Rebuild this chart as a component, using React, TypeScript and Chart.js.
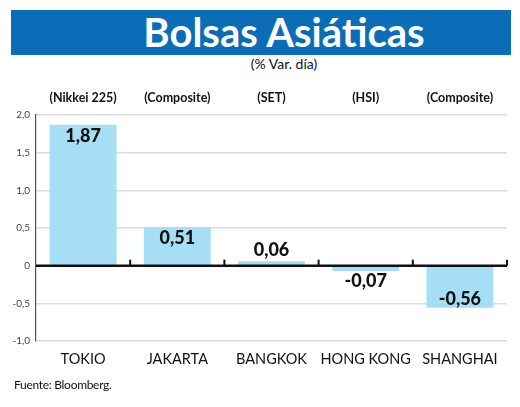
import React, { useEffect, useRef } from "react";
import { Chart, registerables } from "chart.js";

Chart.register(...registerables);

const categories = ["TOKIO", "JAKARTA", "BANGKOK", "HONG KONG", "SHANGHAI"];
const indexNames = ["(Nikkei 225)", "(Composite)", "(SET)", "(HSI)", "(Composite)"];
const values = [1.87, 0.51, 0.06, -0.07, -0.56];
const yTicks = [2.0, 1.5, 1.0, 0.5, 0, -0.5, -1.0];

const fmt = (v: number, d: number) => (v === 0 ? "0" : v.toFixed(d).replace(".", ","));

const zeroLinePlugin = {
  id: "zeroLine",
  afterDatasetsDraw(chart: any) {
    const { ctx, chartArea, scales } = chart;
    const y = scales.y.getPixelForValue(0);
    ctx.save();
    ctx.strokeStyle = "#111";
    ctx.lineWidth = 2.5;
    ctx.beginPath();
    ctx.moveTo(chartArea.left, y);
    ctx.lineTo(chartArea.right, y);
    ctx.stroke();
    const n = categories.length;
    const step = (chartArea.right - chartArea.left) / n;
    ctx.lineWidth = 2;
    for (let i = 1; i <= n; i++) {
      const x = chartArea.left + step * i;
      ctx.beginPath();
      ctx.moveTo(x, y);
      ctx.lineTo(x, y - 6);
      ctx.stroke();
    }
    ctx.restore();
  },
};

const valueLabelPlugin = {
  id: "valueLabels",
  afterDatasetsDraw(chart: any) {
    const { ctx } = chart;
    const meta = chart.getDatasetMeta(0);
    ctx.save();
    ctx.font = "900 18px Lato";
    ctx.fillStyle = "#111";
    ctx.textAlign = "center";
    ctx.textBaseline = "middle";
    meta.data.forEach((bar: any, i: number) => {
      const v = values[i];
      const h = Math.abs(bar.base - bar.y);
      let y;
      if (v >= 0) {
        y = h > 26 ? bar.y + 11 : bar.y - 11;
      } else {
        y = h > 26 ? bar.y - 9 : bar.y + 10;
      }
      ctx.fillText(fmt(v, 2), bar.x, y);
    });
    ctx.restore();
  },
};

export default function App() {
  const ref = useRef<HTMLCanvasElement>(null);
  useEffect(() => {
    if (!ref.current) return;
    const chart = new Chart(ref.current, {
      type: "bar",
      data: {
        labels: categories,
        datasets: [
          {
            data: values,
            backgroundColor: "#a6dff5",
            borderWidth: 0,
            categoryPercentage: 1,
            barPercentage: 0.71,
          },
        ],
      },
      options: {
        animation: false,
        responsive: false,
        maintainAspectRatio: false,
        layout: { padding: { left: 0, right: 13, top: 0, bottom: 0 } },
        plugins: { legend: { display: false }, tooltip: { enabled: false }, title: { display: false } },
        scales: {
          x: {
            type: "category",
            position: "bottom",
            offset: true,
            grid: { display: false, drawTicks: false },
            border: { display: false },
            ticks: { color: "#111", font: { family: "Lato", size: 14.5 }, padding: 10, maxRotation: 0, autoSkip: false },
            afterFit: (s: any) => { s.height = 39; },
          },
          x2: {
            type: "category",
            position: "top",
            labels: indexNames,
            offset: true,
            grid: { display: false, drawTicks: false },
            border: { display: false },
            ticks: { color: "#111", font: { family: "Lato", size: 12.5, weight: "bold" }, padding: 10, maxRotation: 0, autoSkip: false },
            afterFit: (s: any) => { s.height = 35; },
          },
          y: {
            min: -1,
            max: 2,
            afterBuildTicks: (s: any) => { s.ticks = yTicks.map((v) => ({ value: v })); },
            grid: { color: "#dcdcdc", lineWidth: 1.5, drawTicks: false },
            border: { display: true, color: "#555", width: 1.2 },
            ticks: { color: "#444", font: { family: "Lato", size: 10 }, padding: 6, callback: (v: any) => fmt(Number(v), 1) },
            afterFit: (s: any) => { s.width = 36; },
          },
        },
      },
      plugins: [zeroLinePlugin, valueLabelPlugin],
    });
    return () => chart.destroy();
  }, []);

  return (
    <div style={{ position: "fixed", left: 0, top: 0, width: 520, height: 407, background: "#fff", overflow: "hidden", fontFamily: "Lato" }}>
      <div style={{ position: "absolute", left: 11, top: 10, width: 500, height: 45, background: "#0b6db7" }} />
      <div style={{ position: "absolute", left: 284, top: 8, transform: "translateX(-50%)", color: "#fff", fontWeight: 700, fontSize: 40, lineHeight: "48px", whiteSpace: "nowrap", letterSpacing: 0 }}>
        Bolsas Asiáticas
      </div>
      <div style={{ position: "absolute", left: 284, top: 56, transform: "translateX(-50%)", color: "#111", fontSize: 14, lineHeight: "16px", whiteSpace: "nowrap" }}>
        (% Var. día)
      </div>
      <canvas ref={ref} width={520} height={300} style={{ position: "absolute", left: 0, top: 80, width: 520, height: 300 }} />
      <div style={{ position: "absolute", left: 14, top: 377, color: "#111", fontSize: 12, lineHeight: "16px", whiteSpace: "nowrap", letterSpacing: -0.3 }}>
        Fuente: Bloomberg.
      </div>
    </div>
  );
}
